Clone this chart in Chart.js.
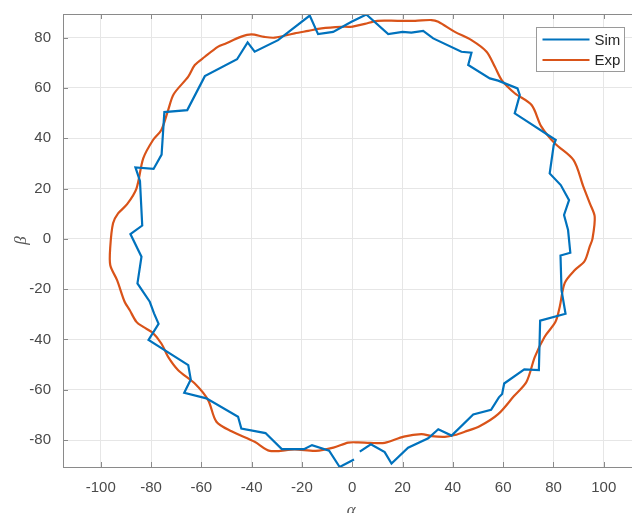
<!DOCTYPE html>
<html>
<head>
<meta charset="utf-8">
<script src="https://cdn.jsdelivr.net/npm/chart.js@4.4.1/dist/chart.umd.min.js"></script>
<style>
html, body { margin: 0; padding: 0; background: #fff; overflow: hidden; }
#wrap { width: 645px; height: 513px; }
</style>
</head>
<body>
<div id="wrap"><canvas id="myChart" width="645" height="513"></canvas></div>
<script>
const xTicks = [-100, -80, -60, -40, -20, 0, 20, 40, 60, 80, 100];
const yTicks = [-80, -60, -40, -20, 0, 20, 40, 60, 80];

// Sim (alpha, beta) - open path, small gap near the bottom
const simAlpha = [3.0, 7.4, 12.9, 15.6, 22.2, 30.2, 34.2, 39.5, 48.1, 55.2, 58.3, 59.6, 60.4, 68.4, 74.2,
  74.7, 84.8, 83.2, 82.8, 86.7, 85.8, 84.2, 86.2, 82.9, 78.5, 80.1, 80.9, 64.6, 66.6, 65.7, 58.0, 54.7,
  46.1, 47.4, 43.4, 32.2, 28.2, 23.5, 20.0, 14.3, 5.6, -0.3, -7.6, -13.6, -16.9, -29.5, -38.8, -41.6,
  -45.8, -58.6, -65.6, -74.7, -75.8, -79.0, -86.2, -84.4, -83.5, -88.2, -83.8, -85.4, -80.5, -78.8,
  -77.0, -81.0, -65.2, -64.2, -66.8, -58.0, -45.4, -44.1, -34.5, -28.0, -19.2, -16.0, -9.2, -5.0, 0.7];
const simBeta = [-84.6, -81.7, -84.8, -89.3, -83.0, -79.3, -75.7, -78.2, -69.8, -68.0, -63.0, -61.7, -57.5, -51.9, -52.2,
  -32.5, -29.8, -20.4, -6.6, -5.5, 3.5, 9.5, 15.4, 21.4, 26.0, 37.3, 39.3, 49.9, 57.2, 59.8, 62.9, 63.8,
  69.1, 74.0, 74.4, 79.7, 82.7, 82.0, 82.3, 81.4, 89.2, 86.3, 82.3, 81.4, 88.8, 79.0, 74.4, 78.1,
  71.4, 64.7, 51.2, 50.4, 33.5, 27.8, 28.4, 23.0, 5.3, 1.9, -7.1, -17.7, -25.0, -29.6,
  -33.8, -40.2, -50.2, -55.9, -61.2, -63.4, -70.7, -75.4, -77.2, -83.6, -83.6, -82.0, -84.2, -90.7, -87.7];

// Exp (alpha, beta) - closed loop
const expAlpha = [-0.3, 5, 10, 18, 25, 31.5, 34.2, 40.8, 47.4, 53.4, 56.7, 59.5, 64.6, 71.3, 75.2, 80.5,
  88.0, 91.8, 94.5, 96.4, 95.5, 94.4, 92.4, 88.5, 84.5, 82.5, 80.8, 76.5, 72.6, 69.3, 64.3, 58.0, 50.8,
  44.7, 40.8, 36.8, 31.5, 27.5, 20.5, 12.9, 7, 2.3, -1.6, -7.5, -14.5, -22.9, -32.8, -38.8, -48.0, -54.0,
  -57.3, -62.6, -69.2, -73.2, -75.9, -79.5, -83.1, -85.8, -88.5, -90.5, -93.5, -96.2, -96.2, -95.1,
  -93.1, -89.5, -85.8, -83.1, -79.2, -75.9, -73.2, -71.0, -65.2, -62.6, -58.6, -53.3, -50.7, -44.1,
  -40.1, -35, -30.8, -22.9, -17.5, -12.2, -4.3, -0.3];
const expBeta = [84.3, 85.5, 86.7, 86.7, 86.7, 87.0, 86.3, 82.3, 79.0, 74.4, 68.4, 63.0, 57.9, 53.2, 44.6, 38.0,
  31.3, 21.0, 14, 8.8, 0, -3.1, -8.8, -12.4, -17.5, -27.0, -33.0, -38.9, -46.9, -56.8, -62.5, -69.7, -74.4,
  -76.7, -78.0, -78.7, -78.4, -77.6, -78.6, -81.1, -81.1, -80.9, -81.0, -83.0, -84.3, -83.7, -84.3, -80.7, -76.5, -72.7,
  -64.1, -57.5, -52.2, -46.9, -41.6, -37.2, -35.0, -33.0, -28.3, -25.0, -16.4, -10.5, -3.1, 6.2,
  10.1, 13.8, 20.0, 32.0, 39.3, 43.3, 51.2, 57.5, 64.5, 69.1, 72.4, 76.4, 77.5, 80.4,
  81.3, 80.3, 80.0, 81.7, 82.7, 83.7, 84.3, 84.3];

const toPoints = (xs, ys) => xs.map((v, i) => ({x: v, y: ys[i]}));

const matlabFrame = {
  id: 'matlabFrame',
  afterDatasetsDraw(chart) {
    const {ctx, chartArea: a, scales: {x, y}} = chart;
    ctx.save();
    ctx.strokeStyle = '#8a8a8a';
    ctx.lineWidth = 1;
    ctx.beginPath();
    ctx.moveTo(a.left, a.top + 0.5);
    ctx.lineTo(a.right, a.top + 0.5);
    xTicks.forEach(v => {
      const px = Math.round(x.getPixelForValue(v)) + 0.5;
      ctx.moveTo(px, a.top);
      ctx.lineTo(px, a.top + 5);
      ctx.moveTo(px, a.bottom);
      ctx.lineTo(px, a.bottom - 5);
    });
    yTicks.forEach(v => {
      const py = Math.round(y.getPixelForValue(v)) + 0.5;
      ctx.moveTo(a.left, py);
      ctx.lineTo(a.left + 5, py);
    });
    ctx.stroke();

    // legend box, top right inside the axes
    const lx = 536.5, ly = 27.5;
    ctx.fillStyle = '#fff';
    ctx.fillRect(lx, ly, 88, 44);
    ctx.strokeStyle = '#9a9a9a';
    ctx.strokeRect(lx, ly, 88, 44);
    ctx.font = '15px "Liberation Sans", Arial, sans-serif';
    ctx.textBaseline = 'middle';
    ctx.textAlign = 'left';
    chart.data.datasets.forEach((ds, i) => {
      const yy = ly + 12 + i * 20.5;
      ctx.strokeStyle = ds.borderColor;
      ctx.lineWidth = 2;
      ctx.beginPath();
      ctx.moveTo(lx + 6, yy);
      ctx.lineTo(lx + 53, yy);
      ctx.stroke();
      ctx.fillStyle = '#262626';
      ctx.fillText(ds.label, lx + 58, yy + 1);
    });

    // axis labels
    ctx.fillStyle = '#555';
    ctx.font = 'italic 17px "Liberation Serif", serif';
    ctx.textAlign = 'center';
    ctx.fillText('\u03b1', (a.left + x.getPixelForValue(115)) / 2 - 1, 511);
    ctx.translate(22, (a.top + a.bottom) / 2);
    ctx.rotate(-Math.PI / 2);
    ctx.fillText('\u03b2', 0, 0);
    ctx.restore();
  }
};

new Chart(document.getElementById('myChart'), {
  type: 'scatter',
  data: {
    datasets: [
      {
        label: 'Sim',
        data: toPoints(simAlpha, simBeta),
        showLine: true,
        borderColor: '#0072BD',
        backgroundColor: '#0072BD',
        borderWidth: 2.2,
        pointRadius: 0,
        tension: 0
      },
      {
        label: 'Exp',
        data: toPoints(expAlpha, expBeta),
        showLine: true,
        borderColor: '#D95319',
        backgroundColor: '#D95319',
        borderWidth: 2.2,
        pointRadius: 0,
        tension: 0.3
      }
    ]
  },
  options: {
    responsive: false,
    animation: false,
    devicePixelRatio: 1,
    layout: { padding: { top: 14, right: 3.5, left: 0, bottom: 0 } },
    plugins: {
      legend: { display: false },
      tooltip: { enabled: false }
    },
    scales: {
      x: {
        type: 'linear',
        min: -115,
        max: 115,
        afterBuildTicks: s => { s.ticks = xTicks.map(v => ({value: v})); },
        afterFit: s => { s.height = 46; s.paddingLeft = 0; s.paddingRight = 0; },
        grid: { color: '#e6e6e6', drawTicks: false },
        border: { color: '#8a8a8a', width: 1 },
        ticks: { color: '#4a4a4a', font: { size: 15, family: '"Liberation Sans", Arial, sans-serif' }, padding: 12, maxRotation: 0 }
      },
      y: {
        type: 'linear',
        min: -90.7,
        max: 89.4,
        afterBuildTicks: s => { s.ticks = yTicks.map(v => ({value: v})); },
        afterFit: s => { s.width = 63; s.paddingTop = 0; s.paddingBottom = 0; },
        grid: { color: '#e6e6e6', drawTicks: false },
        border: { color: '#8a8a8a', width: 1 },
        ticks: { color: '#4a4a4a', font: { size: 15, family: '"Liberation Sans", Arial, sans-serif' }, padding: 12 }
      }
    }
  },
  plugins: [matlabFrame]
});
</script>
</body>
</html>
